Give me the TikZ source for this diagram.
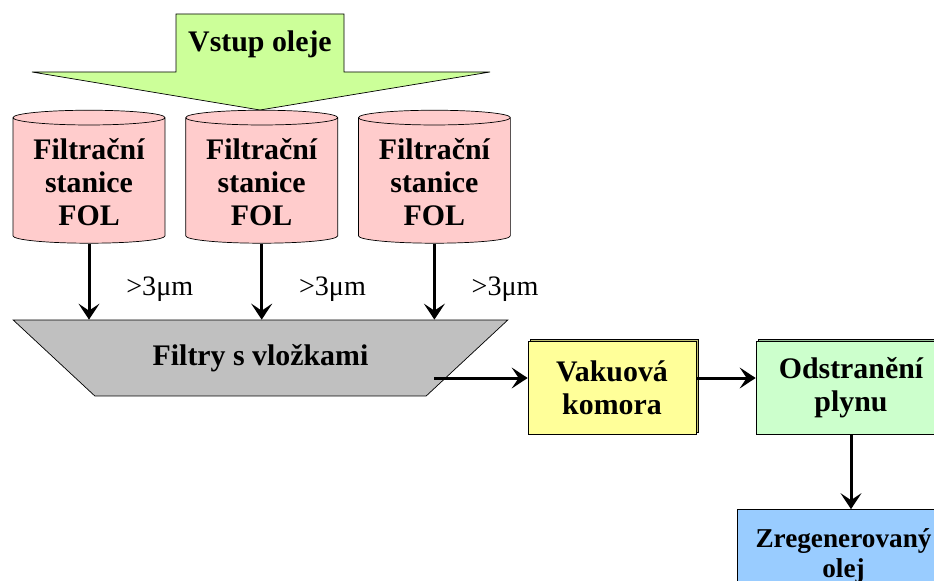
\documentclass[tikz,border=0pt]{standalone}
\usepackage{fontspec}
\setmainfont{Liberation Serif}
\usepackage{tikz}
\usetikzlibrary{shapes.geometric, arrows.meta, positioning, shadows}
\definecolor{inletgreen}{RGB}{204,255,153}
\definecolor{stationpink}{RGB}{255,204,204}
\definecolor{filtergray}{RGB}{192,192,192}
\definecolor{vacyellow}{RGB}{255,255,153}
\definecolor{gasgreen}{RGB}{204,255,204}
\definecolor{oilblue}{RGB}{153,204,255}
\tikzstyle{station} = [cylinder, shape border rotate=90, aspect=0.12, minimum width=3.04cm, minimum height=2.66cm, text centered, align=center, draw=black, fill=stationpink, font=\bfseries\fontsize{17}{19}\selectfont]
\tikzstyle{inflow} = [draw=black, fill=inletgreen]
\tikzstyle{filter} = [trapezium, trapezium left angle=145, trapezium right angle=145, trapezium stretches=true, minimum width=9.9cm, minimum height=1.52cm, draw=black, fill=filtergray, font=\bfseries\fontsize{17}{19}\selectfont]
\tikzstyle{process} = [rectangle, minimum height=1.86cm, text centered, align=center, draw=black, font=\bfseries\fontsize{17}{19}\selectfont]
\tikzstyle{size} = [font=\fontsize{16}{18}\selectfont]
\tikzstyle{arrow} = [line width=0.06cm, -{Stealth[length=0.32cm, width=0.42cm, inset=0.14cm]}]

\begin{document}
\begin{tikzpicture}[x=0.02cm, y=-0.02cm, node distance=0.4cm]
	\clip (0,0) rectangle (934,581);
	\fill[white] (0,0) rectangle (934,581);
	% oil inlet arrow
	\draw [inflow] (176,14) -- (344,14) -- (344,72) -- (490,72) -- (260,110) -- (32,72) -- (176,72) -- cycle;
	\node (vstup) at (260,44) [font=\bfseries\fontsize{17}{19}\selectfont] {Vstup oleje};

	\node (fol1) at (89,182) [station] {Filtrační\\stanice\\FOL};
	\node (fol2) [station, right=of fol1] {Filtrační\\stanice\\FOL};
	\node (fol3) [station, right=of fol2] {Filtrační\\stanice\\FOL};
	\node (filtry) at (260.5,358) [filter] {Filtry s vložkami};

	% boxes with a thin 3D edge
	\node (vakuova) at (612,388) [process, minimum width=3.36cm, fill=vacyellow, copy shadow={shadow xshift=0.05cm, shadow yshift=0.05cm, fill=vacyellow!75!black}] {Vakuová\\komora};
	\node (plyn) at (851,388) [process, minimum width=3.8cm, fill=gasgreen, copy shadow={shadow xshift=0.05cm, shadow yshift=0.05cm, fill=gasgreen!75!black}] {Odstranění\\plynu};
	\node (olej) at (851,556) [process, minimum width=4.56cm, fill=oilblue, font=\bfseries\fontsize{15.5}{17}\selectfont] {\hspace*{-0.3cm}Zregenerovaný\\\hspace*{-0.3cm}olej};

	\draw [arrow] (fol1.bottom) -- (fol1.bottom |- filtry.north) node [size, pos=0.6, right=0.6cm] {>3μm};
	\draw [arrow] (fol2.bottom) -- (fol2.bottom |- filtry.north) node [size, pos=0.6, right=0.6cm] {>3μm};
	\draw [arrow] (fol3.bottom) -- (fol3.bottom |- filtry.north) node [size, pos=0.6, right=0.6cm] {>3μm};
	\draw [arrow] ([yshift=0.2cm]vakuova.west -| fol3.bottom) -- ([yshift=0.2cm]vakuova.west);
	\draw [arrow] ([yshift=0.2cm]vakuova.east) -- ([yshift=0.2cm]plyn.west);
	\draw [arrow] (plyn) -- (olej);
\end{tikzpicture}
\end{document}
